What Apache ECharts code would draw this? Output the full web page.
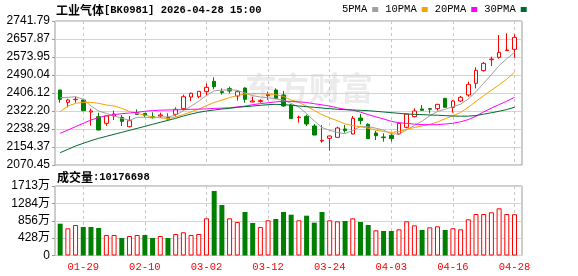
<!DOCTYPE html>
<html><head><meta charset="utf-8">
<script src="https://cdn.jsdelivr.net/npm/echarts@6/dist/echarts.min.js"></script>
<style>html,body{margin:0;padding:0;background:#fff}#c{width:578px;height:276px}</style>
</head><body><div id="c"></div>
<script>
// ---- data ----
const dates = ['01-26','01-27','01-28','01-29','01-30','02-02','02-03','02-04','02-05','02-06',
  '02-09','02-10','02-11','02-12','02-13','02-24','02-25','02-26','02-27','03-02',
  '03-03','03-04','03-05','03-06','03-09','03-10','03-11','03-12','03-13','03-16',
  '03-17','03-18','03-19','03-20','03-23','03-24','03-25','03-26','03-27','03-30',
  '03-31','04-01','04-02','04-03','04-07','04-08','04-09','04-10','04-13','04-14',
  '04-15','04-16','04-17','04-20','04-21','04-22','04-23','04-24','04-27','04-28'];
const opens = [2420.1,2362.6,2375.0,2373.5,2317.6,2295.8,2264.7,2298.9,2292.7,2249.2,
  2314.4,2311.3,2295.8,2298.9,2292.7,2306.6,2333.1,2387.5,2389.0,2412.4,
  2460.5,2412.4,2426.3,2392.1,2429.4,2364.2,2367.3,2393.7,2420.1,2396.8,
  2350.2,2291.1,2297.3,2252.3,2182.4,2194.8,2199.4,2238.3,2215.0,2289.6,
  2260.0,2219.6,2201.0,2208.8,2215.0,2246.1,2295.8,2331.5,2333.1,2333.1,
  2381.3,2339.3,2368.8,2396.8,2451.2,2510.3,2561.5,2572.4,2603.5,2609.7];
const closes = [2376.6,2373.5,2377.0,2323.8,2322.5,2233.6,2298.9,2308.2,2274.0,2277.2,
  2306.6,2302.0,2291.1,2303.6,2284.9,2330.0,2389.0,2404.6,2413.9,2432.5,
  2435.6,2407.7,2415.5,2412.4,2376.6,2368.8,2370.4,2398.4,2379.7,2345.5,
  2286.5,2294.2,2261.6,2210.3,2185.5,2205.7,2243.0,2230.5,2288.0,2277.2,
  2193.2,2207.2,2197.9,2193.2,2264.7,2308.2,2322.2,2325.3,2330.0,2353.3,
  2339.3,2368.8,2386.0,2446.5,2511.8,2544.4,2564.6,2595.7,2606.6,2665.6];
const lows = [2361.0,2339.3,2361.0,2322.0,2253.8,2232.0,2252.3,2280.2,2252.3,2246.1,
  2305.0,2292.7,2286.5,2289.6,2283.4,2295.8,2323.8,2368.8,2381.3,2395.3,
  2423.2,2398.4,2404.6,2370.4,2361.0,2364.0,2361.0,2373.5,2378.0,2342.4,
  2285.0,2267.8,2252.3,2208.8,2174.6,2137.3,2197.9,2221.2,2213.4,2260.0,
  2191.7,2187.0,2179.3,2179.3,2210.3,2241.4,2292.7,2324.0,2311.3,2323.8,
  2336.2,2314.4,2364.2,2389.0,2427.9,2505.6,2532.0,2566.2,2602.0,2570.9];
const highs = [2421.5,2379.7,2389.0,2379.7,2333.1,2314.4,2299.5,2323.8,2303.6,2298.9,
  2330.0,2312.5,2316.0,2314.4,2311.3,2339.3,2398.4,2407.7,2415.5,2451.2,
  2479.2,2427.9,2435.6,2418.6,2432.5,2389.0,2376.6,2412.4,2427.9,2415.5,
  2354.8,2300.5,2305.1,2261.6,2257.0,2207.2,2249.2,2257.0,2298.9,2308.2,
  2264.7,2229.0,2218.1,2218.1,2267.8,2309.8,2334.6,2350.2,2336.2,2354.8,
  2382.8,2373.5,2392.1,2459.0,2525.8,2550.6,2575.5,2676.5,2684.3,2679.6];
const ma5 = [2384.4,2385.9,2389.0,2376.6,2345.5,2322.0,2311.3,2299.0,2288.0,2279.0,
  2292.7,2293.0,2290.5,2294.0,2295.0,2302.5,2324.0,2345.0,2368.0,2395.0,
  2416.0,2419.5,2421.0,2419.0,2406.0,2393.5,2387.5,2384.0,2379.0,2373.0,
  2358.0,2340.0,2310.0,2276.0,2245.0,2232.5,2222.0,2216.5,2232.0,2249.0,
  2249.0,2242.0,2233.0,2216.0,2214.5,2234.0,2255.0,2275.0,2300.0,2320.0,
  2330.0,2342.0,2354.0,2378.0,2412.0,2452.0,2492.0,2534.0,2566.0,2595.5];
const ma10 = [2319.1,2345.5,2358.0,2362.6,2362.6,2358.0,2350.2,2345.5,2334.6,2320.0,
  2311.0,2303.0,2295.0,2290.5,2287.0,2294.5,2306.0,2318.0,2331.0,2347.0,
  2362.0,2373.0,2385.0,2394.0,2401.5,2403.0,2403.0,2402.0,2398.0,2390.0,
  2373.0,2362.0,2345.0,2325.0,2305.0,2290.0,2277.0,2262.0,2254.0,2249.0,
  2242.0,2233.0,2227.0,2222.0,2226.0,2237.0,2245.0,2253.0,2260.0,2271.0,
  2286.0,2299.5,2315.0,2340.0,2367.0,2393.0,2419.0,2444.0,2471.0,2502.7];
const ma20 = [2218.1,2233.6,2249.2,2264.7,2280.2,2291.1,2300.5,2305.1,2309.8,2312.9,
  2316.0,2321.0,2324.0,2326.0,2327.0,2327.5,2329.0,2330.0,2331.0,2332.0,
  2334.5,2335.5,2337.0,2341.0,2345.0,2351.7,2356.5,2360.5,2364.7,2367.5,
  2367.0,2365.0,2362.0,2356.0,2351.0,2345.0,2337.0,2330.0,2325.5,2317.0,
  2305.5,2295.0,2285.0,2274.0,2267.5,2264.5,2261.0,2259.0,2258.0,2258.7,
  2261.5,2265.0,2272.0,2282.0,2298.0,2318.0,2336.0,2352.0,2368.0,2386.0];
const ma30 = [2127.9,2143.5,2159.0,2171.5,2183.9,2194.8,2204.1,2213.4,2222.8,2232.1,
  2241.4,2250.7,2260.1,2269.4,2278.7,2288.0,2298.9,2308.2,2316.0,2322.2,
  2326.9,2331.5,2334.6,2339.3,2342.4,2345.5,2348.6,2351.7,2353.3,2352.0,
  2349.0,2345.5,2342.4,2339.3,2336.2,2333.1,2330.0,2328.4,2326.9,2325.3,
  2323.8,2320.7,2317.6,2314.5,2311.3,2308.2,2306.6,2305.1,2303.6,2302.5,
  2300.5,2298.9,2298.0,2298.3,2301.0,2307.5,2314.0,2321.0,2329.0,2339.8];
const volumes = [7840000,6710000,7520000,7030000,7030000,6780000,5050000,5050000,4310000,4810000,
  5050000,5050000,4310000,4810000,4310000,5300000,5720000,5050000,5300000,9170000,
  15900000,12450000,9170000,8260000,10720000,8010000,7030000,8680000,9000000,10720000,
  10060000,8680000,9810000,8090000,10720000,8680000,8430000,8500000,9170000,8260000,
  7520000,6210000,6040000,6040000,6460000,8430000,7440000,6290000,6950000,7200000,
  6290000,6710000,6460000,8920000,10230000,10230000,10650000,11630000,10230000,10176698];
const volUp = [0,1,1,0,0,0,1,1,0,1, 1,0,0,1,0,1,1,1,1,1, 0,0,1,1,0,0,1,1,0,0,
  0,1,0,0,0,1,1,0,1,0, 0,1,0,0,1,1,1,0,1,1, 0,1,1,1,1,1,1,1,1,1];
const priceTicks = ['2070.45','2154.37','2238.29','2322.20','2406.12','2490.04','2573.95','2657.87','2741.79'];
const volTicks = ['0','428万','856万','1284万','1713万'];
const priceMin = 2070.45, priceMax = 2741.79;
const volMax = 17130000;
const stockName = '工业气体', stockCode = 'BK0981', stamp = '2026-04-28 15:00';
const maNames = ['5PMA','10PMA','20PMA','30PMA'];

// ---- chart ----
const MONO = "'Liberation Mono','DejaVu Sans Mono',monospace";
const CJK = "'Noto Sans CJK SC',sans-serif";
const SANS = "'Liberation Sans',Arial,'Noto Sans CJK SC',sans-serif";
const RED = '#ff0000', GREEN = '#008000';
const maColors = ['#a0a0a0','#f5a300','#ff00ff','#006a30'];
const showIdx = (i) => i % 8 === 3;
const dashLine = {show:true, interval:(i)=>showIdx(i), lineStyle:{color:'#c8c8c8', type:[3,3], width:1}};
const DL = 60.17, DW = 514.5 - 60.17;

const chart = echarts.init(document.getElementById('c'), null, {renderer:'canvas', width:578, height:276});
const maSeries = [ma5, ma10, ma20, ma30].map((arr, k) => ({
  name: maNames[k], type:'line', xAxisIndex:1, yAxisIndex:1, data: arr,
  symbol:'none', smooth:false, clip:false,
  lineStyle:{color:maColors[k], width:1}, itemStyle:{color:maColors[k]}, z:3
}));
chart.setOption({
  animation:false,
  backgroundColor:'#ffffff',
  title:[
    {text:'{cn|' + stockName + '}{en|[' + stockCode + '] ' + stamp + '}', left:56, top:4, padding:0,
     textStyle:{rich:{cn:{fontFamily:CJK, fontSize:12, color:'#000'}, en:{fontFamily:MONO, fontSize:10.5, color:'#000'}}}},
    {text:'{cn|成交量}{en|:' + volumes[volumes.length-1] + '}', left:57, top:171, padding:0,
     textStyle:{rich:{cn:{fontFamily:CJK, fontSize:12, color:'#000'}, en:{fontFamily:MONO, fontSize:10.5, color:'#000'}}}}
  ],
  legend:{data:maNames, left:342, top:4, padding:0, itemGap:7, itemWidth:6, itemHeight:5,
    icon:'rect', align:'right', selectedMode:false,
    textStyle:{fontFamily:MONO, fontSize:10.5, color:'#000'}},
  graphic:[{type:'text', left:245, top:72, z:-1, silent:true,
    style:{text:'东方财富', fill:'#ebebeb', font:'bold 32px "Noto Sans CJK SC"'}}],
  grid:[
    {left:55, top:21, width:467, height:144, show:true, borderColor:'#9a9a9a', borderWidth:1},
    {left:DL, top:21, width:DW, height:144},
    {left:55, top:186, width:467, height:69.5, show:true, borderColor:'#9a9a9a', borderWidth:1},
    {left:DL, top:186, width:DW, height:69.5}
  ],
  xAxis:[
    {gridIndex:0, type:'value', show:false, min:0, max:1},
    {gridIndex:1, type:'category', data:dates, boundaryGap:false,
     axisLine:{show:false}, axisTick:{show:false}, axisLabel:{show:false}, splitLine:dashLine},
    {gridIndex:2, type:'value', show:false, min:0, max:1},
    {gridIndex:3, type:'category', data:dates, boundaryGap:false,
     axisLine:{show:false}, axisTick:{show:false},
     axisLabel:{show:true, interval:(i)=>showIdx(i), color:RED, fontFamily:MONO, fontSize:10.5, margin:6},
     splitLine:dashLine}
  ],
  yAxis:[
    {gridIndex:0, type:'value', min:priceMin, max:priceMax, interval:(priceMax-priceMin)/8,
     axisLine:{show:false}, axisTick:{show:true, length:3, lineStyle:{color:'#9a9a9a'}},
     axisLabel:{color:'#000', fontFamily:SANS, fontSize:12, margin:5,
       formatter:(v, i) => priceTicks[i] !== undefined ? priceTicks[i] : v.toFixed(2)},
     splitLine:{show:true, lineStyle:{color:'#d4d4d4', width:1}}},
    {gridIndex:1, type:'value', min:priceMin, max:priceMax, show:false, splitLine:{show:false}},
    {gridIndex:2, type:'value', min:0, max:volMax, interval:volMax/4,
     axisLine:{show:false}, axisTick:{show:true, length:3, lineStyle:{color:'#9a9a9a'}},
     axisLabel:{color:'#000', fontFamily:SANS, fontSize:12, margin:5,
       formatter:(v, i) => volTicks[i] !== undefined ? volTicks[i] : String(v)},
     splitLine:{show:true, lineStyle:{color:'#d4d4d4', width:1}}},
    {gridIndex:3, type:'value', min:0, max:volMax, show:false, splitLine:{show:false}}
  ],
  series:[
    {type:'candlestick', xAxisIndex:1, yAxisIndex:1, clip:false, barWidth:4,
     data: dates.map((d, i) => [opens[i], closes[i], lows[i], highs[i]]),
     itemStyle:{color:'#ffffff', color0:GREEN, borderColor:RED, borderColor0:GREEN, borderWidth:1}, z:2},
    ...maSeries,
    {type:'bar', xAxisIndex:3, yAxisIndex:3, clip:false, barWidth:5,
     data: volumes.map((v, i) => ({value:v,
       itemStyle: volUp[i] ? {color:'#ffffff', borderColor:RED, borderWidth:1} : {color:GREEN, borderWidth:0}}))}
  ]
});
</script></body></html>
